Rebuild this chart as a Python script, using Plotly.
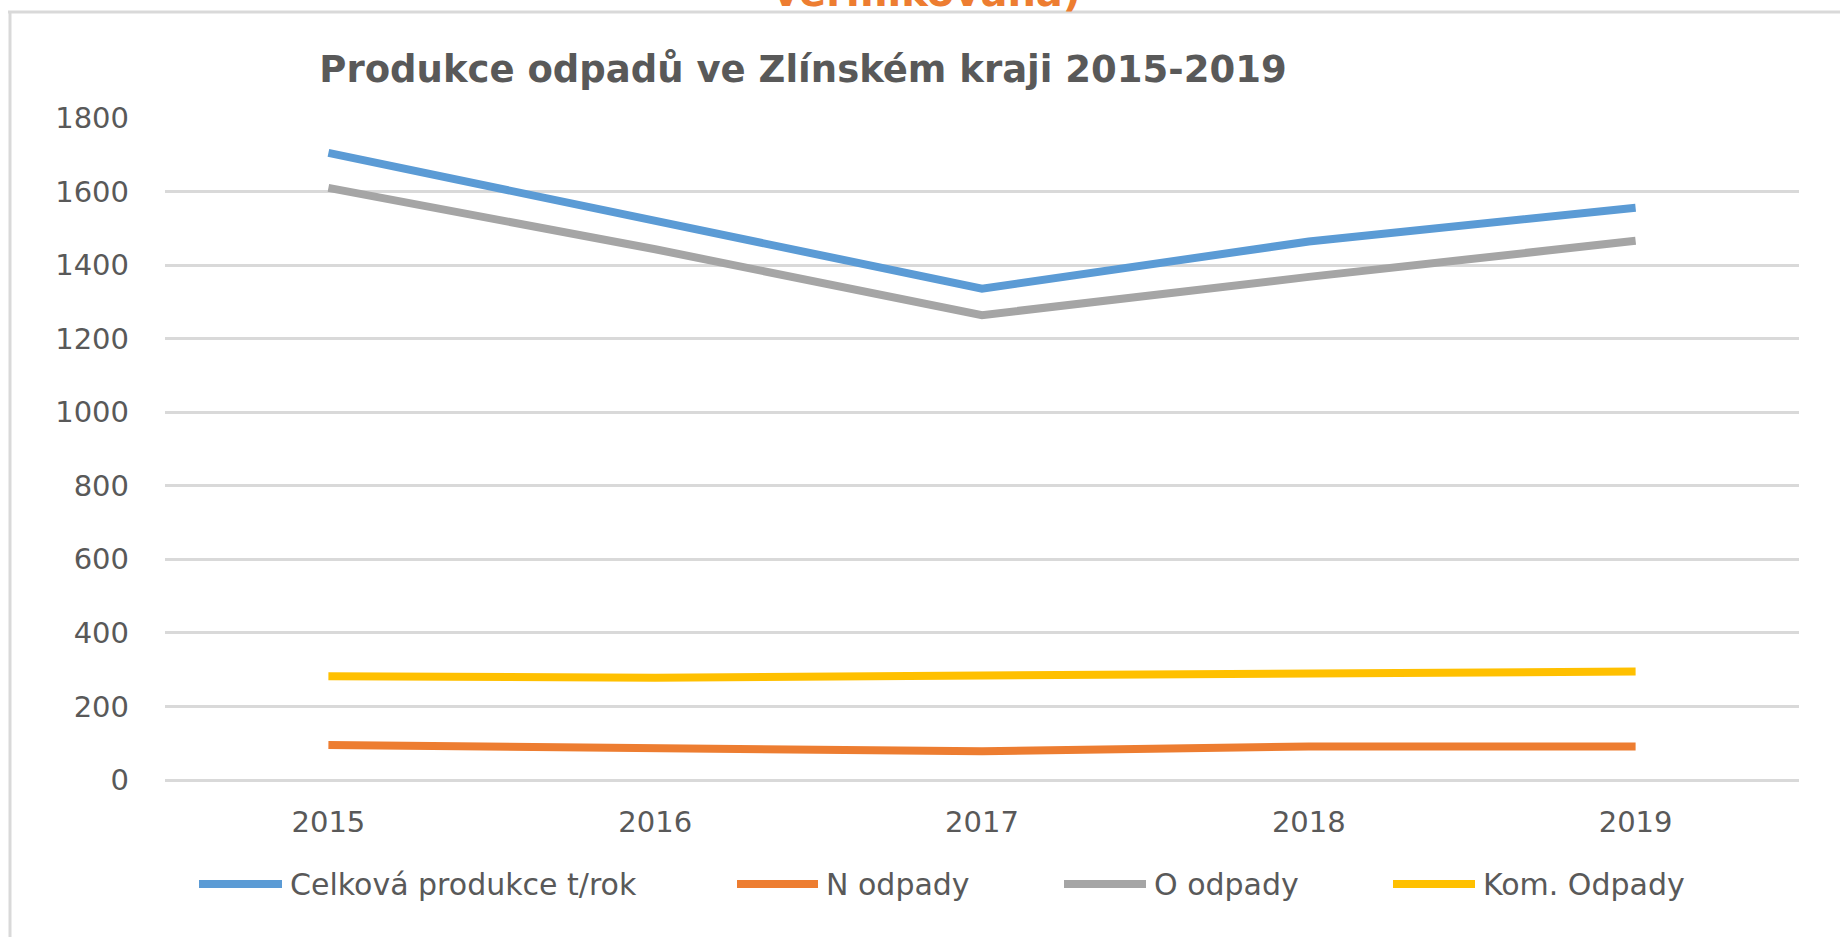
import plotly.graph_objects as go

years = ["2015", "2016", "2017", "2018", "2019"]
series_names = ["Celková produkce t/rok", "N odpady", "O odpady", "Kom. Odpady"]
celkova = [1705, 1523, 1336, 1464, 1556]
n_odpady = [95, 86, 78, 91, 91]
o_odpady = [1610, 1443, 1264, 1368, 1466]
kom_odpady = [282, 278, 284, 290, 295]
y_ticks = [0, 200, 400, 600, 800, 1000, 1200, 1400, 1600, 1800]

colors = ["#5B9BD5", "#ED7D31", "#A5A5A5", "#FFC000"]
values = [celkova, n_odpady, o_odpady, kom_odpady]

W, H = 1840, 937
L, R, T, B = 165, 41, 118, 157
pw, ph = W - L - R, H - T - B


def px_x(p):
    return (p - L) / pw


def px_y(p):
    return (H - B - p) / ph


fig = go.Figure()
for name, vals, col in zip(series_names, values, colors):
    fig.add_trace(go.Scatter(x=years, y=vals, mode="lines", name=name,
                             line=dict(color=col, width=8), showlegend=False))

font_main = "DejaVu Sans"
grid = "#D9D9D9"

shapes = [
    dict(type="line", xref="paper", yref="paper", x0=px_x(8), x1=px_x(1845),
         y0=px_y(12), y1=px_y(12), line=dict(color=grid, width=3), layer="below"),
    dict(type="line", xref="paper", yref="paper", x0=px_x(10), x1=px_x(10),
         y0=px_y(12), y1=px_y(945), line=dict(color=grid, width=3), layer="below"),
]
annotations = [
    dict(text="<b>vermikovaná)</b>", xref="paper", yref="paper",
         x=px_x(927), y=px_y(17), xanchor="center", yanchor="bottom",
         showarrow=False, font=dict(family=font_main, size=40, color="#ED7D31")),
]

# custom legend
leg_line_x = [(199, 282), (737, 818), (1064, 1146), (1393, 1475)]
leg_y = 884
for (x0, x1), name, col in zip(leg_line_x, series_names, colors):
    shapes.append(dict(type="line", xref="paper", yref="paper",
                       x0=px_x(x0), x1=px_x(x1), y0=px_y(leg_y), y1=px_y(leg_y),
                       line=dict(color=col, width=8)))
    annotations.append(dict(text=name, xref="paper", yref="paper",
                            x=px_x(x1 + 6), y=px_y(leg_y), xanchor="left", yanchor="middle",
                            showarrow=False,
                            font=dict(family=font_main, size=30, color="#595959")))

fig.update_layout(
    width=W, height=H,
    margin=dict(l=L, r=R, t=T, b=B),
    paper_bgcolor="white", plot_bgcolor="white",
    title=dict(text="<b>Produkce odpadů ve Zlínském kraji 2015-2019</b>",
               x=803 / W, xref="container", xanchor="center",
               y=1 - 69 / H, yref="container", yanchor="middle",
               font=dict(family=font_main, size=37, color="#595959")),
    xaxis=dict(type="category", range=[-0.5, 4.5], showgrid=False, showline=False,
               zeroline=False, ticks="", ticklabelstandoff=22,
               tickfont=dict(family=font_main, size=29, color="#595959")),
    yaxis=dict(range=[0, 1800], tickvals=y_ticks, showgrid=True, gridcolor=grid,
               gridwidth=2.5, zeroline=True, zerolinecolor=grid, zerolinewidth=2.5,
               showline=False, ticks="", ticklabelstandoff=35,
               tickfont=dict(family=font_main, size=29, color="#595959")),
    shapes=shapes,
    annotations=annotations,
    showlegend=False,
)

fig.write_html("out.html")
